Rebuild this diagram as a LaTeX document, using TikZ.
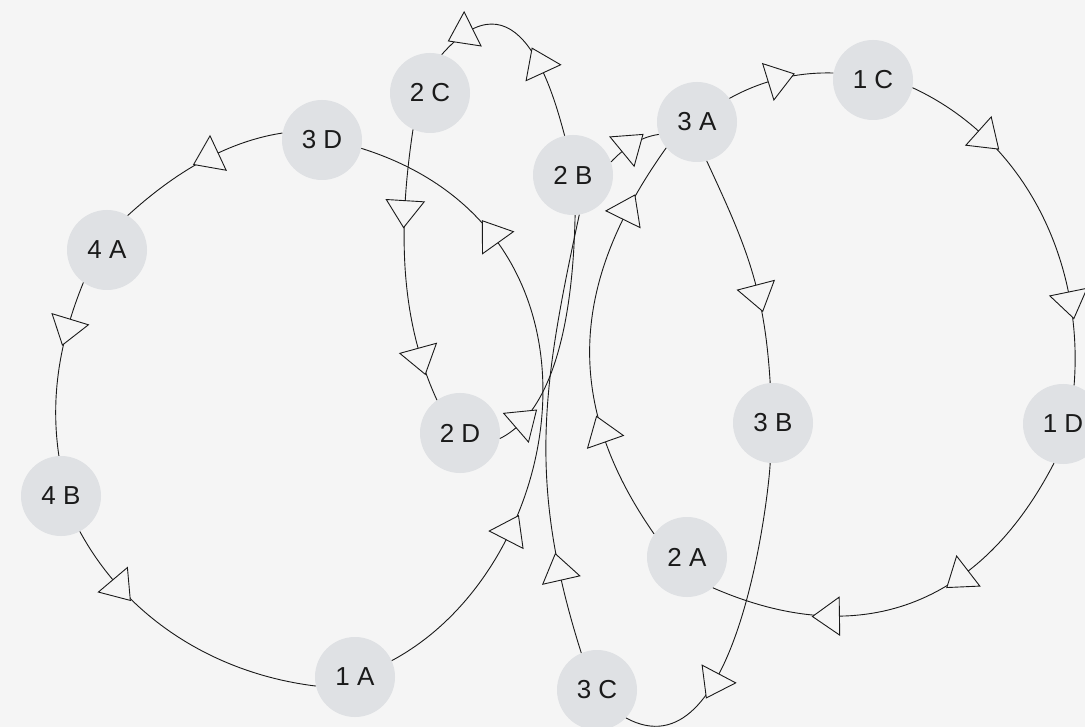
\documentclass[tikz,border=0pt]{standalone}
\usepackage{fontspec}
\setmainfont{Liberation Sans}
\usetikzlibrary{decorations.markings}
\definecolor{bgcol}{HTML}{F5F5F5}
\definecolor{nodefill}{HTML}{DFE1E4}
\definecolor{ink}{HTML}{1A1A1A}
\tikzset{
  vtx/.style={circle, fill=nodefill, minimum size=80pt, inner sep=0pt,
    font=\fontsize{26}{30}\selectfont, text=ink},
  link/.style={draw=ink, line width=0.9pt},
  tri/.style={draw=ink, fill=bgcol, line width=0.9pt, line join=miter},
  arrowat/.style={postaction={decorate, decoration={markings,
    mark=at position #1 with {\draw[tri] (0pt,-19pt) -- (27pt,0pt) -- (0pt,19pt) -- cycle;}}}},
}
\begin{document}
\begin{tikzpicture}[x=1pt,y=-1pt]
\useasboundingbox (0,0) rectangle (1085,727);
\fill[bgcol] (0,0) rectangle (1085,727);
\clip (0,0) rectangle (1085,727);

% vertices
\node[vtx] (n1A) at (355,677) {1 A};
\node[vtx] (n1C) at (873,80)  {1 C};
\node[vtx] (n1D) at (1063,424) {1 D};
\node[vtx] (n2A) at (687,557) {2 A};
\node[vtx] (n2B) at (573,175) {2 B};
\node[vtx] (n2C) at (430,93)  {2 C};
\node[vtx] (n2D) at (460,433) {2 D};
\node[vtx] (n3A) at (697,122) {3 A};
\node[vtx] (n3B) at (773,423) {3 B};
\node[vtx] (n3C) at (597,690) {3 C};
\node[vtx] (n3D) at (322,140) {3 D};
\node[vtx] (n4A) at (107,250) {4 A};
\node[vtx] (n4B) at (61,496)  {4 B};

% left cycle
\draw[link, arrowat=0.38] (n3D.170) .. controls (224,142) and (172,175) .. (n4A.59);
\draw[link, arrowat=0.22] (n4A.234) .. controls (60,340) and (50,396) .. (n4B.93);
\draw[link, arrowat=0.20] (n4B.-62) .. controls (128,620) and (217,674) .. (n1A.193);
\draw[link, arrowat=0.26, arrowat=0.74] (n1A.24) .. controls (569.6,565.7) and (626.8,231.6) .. (n3D.-12);

% right cycle
\draw[link, arrowat=0.39] (n3A.36) .. controls (762.6,80) and (798,72) .. (n1C.170);
\draw[link, arrowat=0.22, arrowat=0.74] (n1C.-11) .. controls (1027.2,140.7) and (1083.8,264) .. (n1D.74);
\draw[link, arrowat=0.34, arrowat=0.68] (n1D.257) .. controls (980.2,605.8) and (860.1,652) .. (n2A.-50);
\draw[link, arrowat=0.25, arrowat=0.80] (n2A.145) .. controls (559.1,397.9) and (574.1,276.8) .. (n3A.220);

% middle chains
\draw[link, arrowat=0.575] (n3A.-76) .. controls (746,245.6) and (764.3,287.7) .. (n3B.94);
\draw[link, arrowat=0.65] (n3B.-94) .. controls (768,503.4) and (735,777.3) .. (n3C.-44);
\draw[link, arrowat=0.17] (n3C.113) .. controls (527,482) and (542.3,386.1) .. (n2B.-81);
\draw[link, arrowat=0.33, arrowat=0.80] (n2B.102) .. controls (552,88.3) and (518,-32) .. (n2C.73);
\draw[link, arrowat=0.26, arrowat=0.80] (n2C.-115) .. controls (399.2,220.9) and (397.5,314.4) .. (n2D.125);
\draw[link, arrowat=0.08] (n2D.-8.5) .. controls (566.5,405.4) and (573.8,275.3) .. (n2B.-87);
\draw[link, arrowat=0.27] (n2B.19) .. controls (622.8,149.6) and (638.2,137.4) .. (n3A.198);
\end{tikzpicture}
\end{document}
